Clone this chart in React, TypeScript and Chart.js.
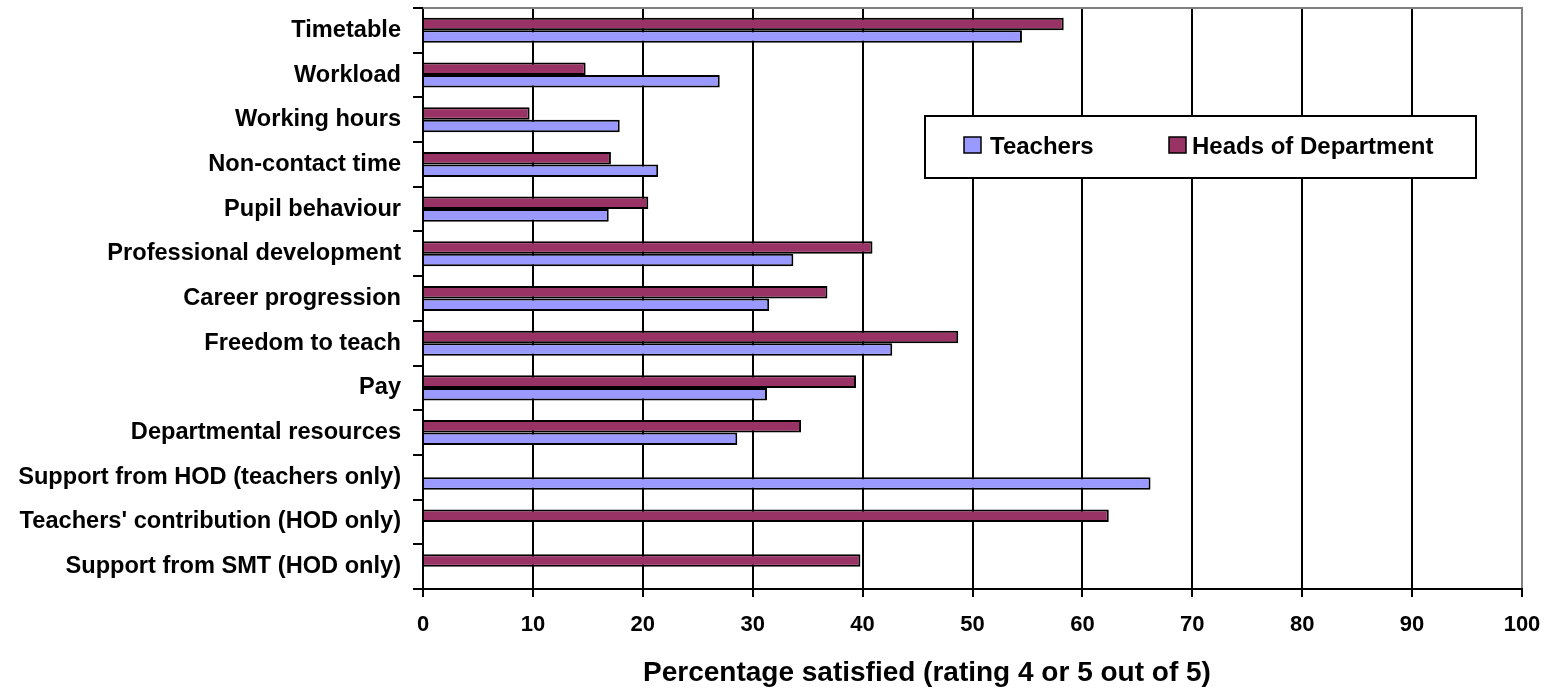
import React, { useEffect, useRef } from "react";
import { Chart, registerables } from "chart.js";

Chart.register(...registerables);

const categories = [
  "Timetable",
  "Workload",
  "Working hours",
  "Non-contact time",
  "Pupil behaviour",
  "Professional development",
  "Career progression",
  "Freedom to teach",
  "Pay",
  "Departmental resources",
  "Support from HOD (teachers only)",
  "Teachers' contribution (HOD only)",
  "Support from SMT (HOD only)",
];
const teachersValues: (number | null)[] = [54.5, 27.0, 17.9, 21.4, 16.9, 33.7, 31.5, 42.7, 31.3, 28.6, 66.2, null, null];
const hodValues: (number | null)[] = [58.3, 14.8, 9.7, 17.1, 20.5, 40.9, 36.8, 48.7, 39.4, 34.4, null, 62.4, 39.8];
const seriesNames = ["Teachers", "Heads of Department"];
const seriesColors = ["#9999FF", "#993366"];
const xMin = 0;
const xMax = 100;
const xStep = 10;
const xTitle = "Percentage satisfied (rating 4 or 5 out of 5)";

const FONT = "'Liberation Sans', Arial, Helvetica, sans-serif";

const decorPlugin = {
  id: "decor",
  afterDraw(chart: any) {
    const { ctx, chartArea: a } = chart;
    ctx.save();
    // grey top frame line
    ctx.strokeStyle = "#808080";
    ctx.lineWidth = 2;
    ctx.beginPath();
    ctx.moveTo(a.left, a.top);
    ctx.lineTo(a.right + 1, a.top);
    ctx.stroke();

    // axis title
    ctx.fillStyle = "#000";
    ctx.font = `bold 28px ${FONT}`;
    ctx.textAlign = "left";
    ctx.textBaseline = "alphabetic";
    ctx.fillText(xTitle, 643, 681);

    // legend box (inside plot)
    const bx = 925, by = 116, bw = 551, bh = 62;
    ctx.fillStyle = "#fff";
    ctx.fillRect(bx, by, bw, bh);
    ctx.strokeStyle = "#000";
    ctx.lineWidth = 2;
    ctx.strokeRect(bx, by, bw, bh);

    // legend items in Teachers, HOD order
    const ds = chart.data.datasets;
    const items = [ds[1], ds[0]];
    const swatchX = [964, 1169];
    const textX = [990, 1192];
    ctx.font = `bold 24px ${FONT}`;
    ctx.textBaseline = "alphabetic";
    ctx.textAlign = "left";
    items.forEach((d: any, i: number) => {
      ctx.fillStyle = d.backgroundColor;
      ctx.fillRect(swatchX[i], 137, 17, 16);
      ctx.strokeStyle = "#000";
      ctx.lineWidth = 1.5;
      ctx.strokeRect(swatchX[i], 137, 17, 16);
      ctx.fillStyle = "#000";
      ctx.fillText(d.label, textX[i], 154);
    });
    ctx.restore();
  },
};

export default function App() {
  const ref = useRef<HTMLCanvasElement | null>(null);

  useEffect(() => {
    if (!ref.current) return;
    const chart = new Chart(ref.current, {
      type: "bar",
      data: {
        labels: categories,
        datasets: [
          {
            label: seriesNames[1],
            data: hodValues,
            backgroundColor: seriesColors[1],
            borderColor: "#000",
            borderWidth: 2,
            categoryPercentage: 0.56,
            barPercentage: 1,
          },
          {
            label: seriesNames[0],
            data: teachersValues,
            backgroundColor: seriesColors[0],
            borderColor: "#000",
            borderWidth: 2,
            categoryPercentage: 0.56,
            barPercentage: 1,
          },
        ],
      },
      options: {
        indexAxis: "y",
        responsive: false,
        animation: false,
        devicePixelRatio: 1,
        layout: { padding: { top: 8, right: 26, left: 0, bottom: 0 } },
        plugins: {
          legend: { display: false },
          tooltip: { enabled: false },
        },
        scales: {
          x: {
            type: "linear",
            min: xMin,
            max: xMax,
            afterFit: (s: any) => {
              s.height = 101;
              s.paddingLeft = 0;
              s.paddingRight = 0;
            },
            ticks: {
              stepSize: xStep,
              color: "#000",
              padding: 15,
              font: { family: FONT, size: 22, weight: "bold" },
            },
            grid: {
              color: (c: any) => (c.tick && c.tick.value === xMax ? "#808080" : "#000"),
              lineWidth: 2,
              tickColor: "#000",
              tickLength: 8,
              drawTicks: true,
            },
            border: { display: true, color: "#000", width: 2 },
            title: { display: false },
          },
          y: {
            afterFit: (s: any) => {
              s.width = 423;
              s.paddingTop = 0;
              s.paddingBottom = 0;
            },
            ticks: {
              color: "#000",
              padding: 12,
              font: { family: FONT, size: 23.6, weight: "bold" },
            },
            grid: {
              drawOnChartArea: false,
              drawTicks: true,
              tickLength: 10,
              color: "#000",
              tickColor: "#000",
              lineWidth: 2,
              offset: true,
            },
            border: { display: true, color: "#000", width: 2 },
          },
        },
      },
      plugins: [decorPlugin],
    } as any);
    return () => chart.destroy();
  }, []);

  return (
    <div style={{ position: "fixed", left: 0, top: 0, width: 1548, height: 690, background: "#fff" }}>
      <canvas ref={ref} width={1548} height={690} style={{ width: 1548, height: 690, display: "block" }} />
    </div>
  );
}
